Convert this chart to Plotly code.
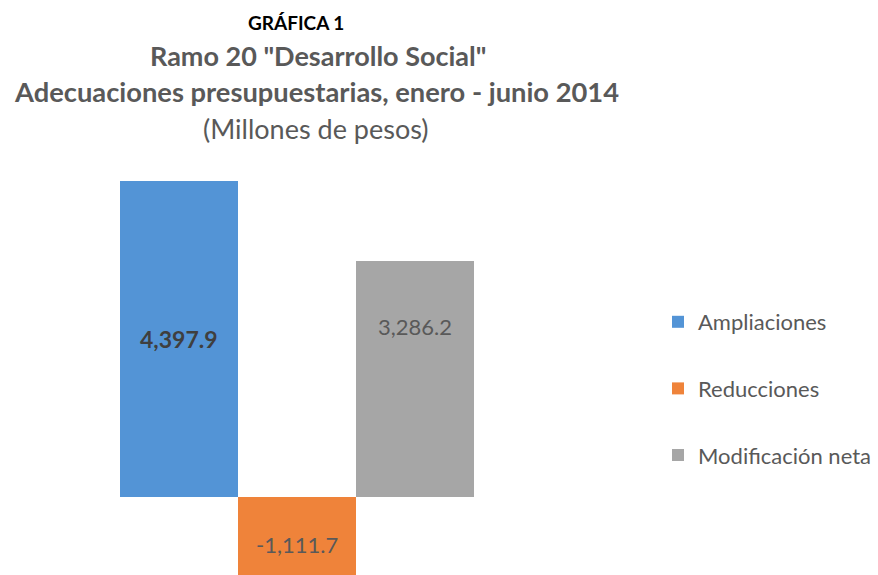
import plotly.graph_objects as go

series = ["Ampliaciones", "Reducciones", "Modificación neta"]
values = [4397.9, -1111.7, 3286.2]
labels = ["4,397.9", "-1,111.7", "3,286.2"]
colors = ["#5394d6", "#ef833a", "#a6a6a6"]

title_lines = [
    "GRÁFICA 1",
    'Ramo 20 "Desarrollo Social"',
    "Adecuaciones presupuestarias, enero - junio 2014",
    "(Millones de pesos)",
]

FONT = "Lato"
W, H = 878, 575
L, R, T, B = 60, 344, 170, 0
zero_px, top_px = 497, 181
scale = (zero_px - top_px) / values[0]  # px per unit
y_lo = -(H - B - zero_px) / scale
y_hi = (zero_px - T) / scale
bargap = 1 - 354 / (W - L - R)
bw = (1 - bargap) / 3

fig = go.Figure()
for name, v, c in zip(series, values, colors):
    fig.add_trace(go.Bar(x=[0], y=[v], name=name, marker_color=c,
                         marker_line_width=0, legendgroup=name,
                         hoverinfo="skip"))

def px_to_paper_x(px):
    return (px - L) / (W - L - R)

def px_to_paper_y(py):
    return (H - B - py) / (H - T - B)

annots = []
label_y = [values[0] * 0.5, values[1] * 0.5 - 110, values[2] * 0.72]
label_colors = ["#3f3f3f", "#595959", "#595959"]
label_bold = [True, False, False]
label_sizes = [23, 22, 22]
label_x = [-bw, 0, bw]
for i in range(3):
    txt = f"<b>{labels[i]}</b>" if label_bold[i] else labels[i]
    annots.append(dict(x=label_x[i], y=label_y[i], xref="x", yref="y", text=txt,
                       showarrow=False,
                       font=dict(family=FONT, size=label_sizes[i], color=label_colors[i])))

title_specs = [
    (22, 19, True, "#000000"),
    (55, 27, True, "#595959"),
    (92, 27.3, True, "#595959"),
    (128, 27, False, "#595959"),
]
centers = [296, 318, 316, 316]
for (py, sz, bold, col), line, cx in zip(title_specs, title_lines, centers):
    txt = f"<b>{line}</b>" if bold else line
    annots.append(dict(x=px_to_paper_x(cx), y=px_to_paper_y(py), xref="paper", yref="paper",
                       text=txt, showarrow=False, xanchor="center", yanchor="middle",
                       font=dict(family=FONT, size=sz, color=col)))

fig.update_layout(
    width=W, height=H,
    margin=dict(l=L, r=R, t=T, b=B),
    paper_bgcolor="white", plot_bgcolor="white",
    barmode="group", bargap=bargap, bargroupgap=0,
    showlegend=True,
    legend=dict(x=px_to_paper_x(658), y=px_to_paper_y(301), xanchor="left", yanchor="top",
                font=dict(family=FONT, size=22, color="#595959"),
                traceorder="grouped", tracegroupgap=35, bgcolor="rgba(0,0,0,0)"),
    xaxis=dict(range=[-0.5, 0.5], visible=False, fixedrange=True),
    yaxis=dict(range=[y_lo, y_hi], visible=False, fixedrange=True),
    annotations=annots,
    font=dict(family=FONT),
)

fig.write_html("out.html", config={"displayModeBar": False},
               post_script="document.body.style.margin='0';")
